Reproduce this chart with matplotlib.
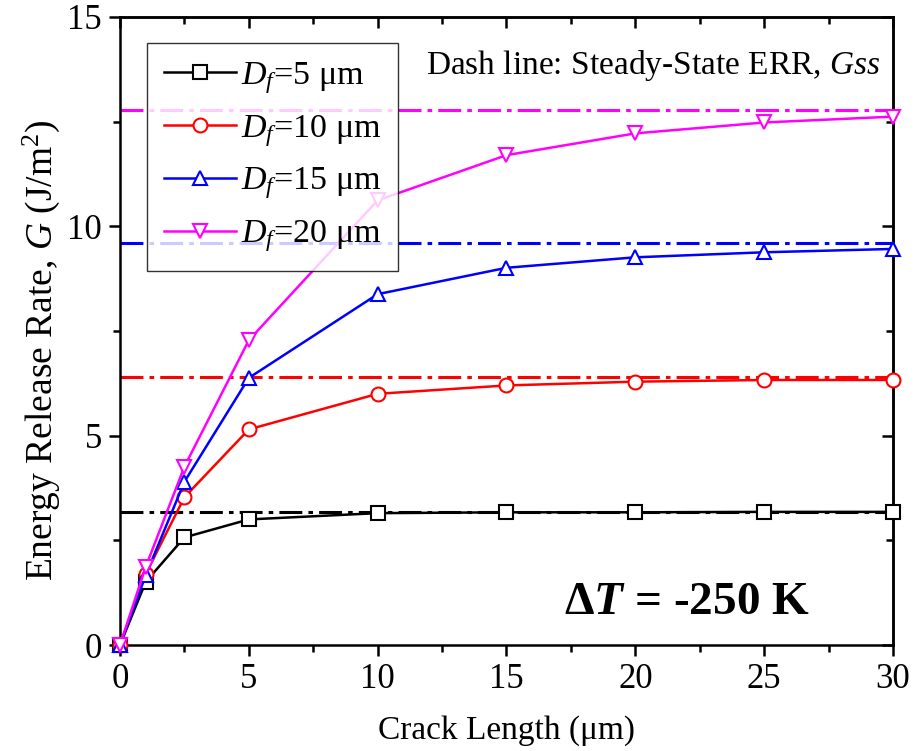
import matplotlib
matplotlib.use("Agg")
import matplotlib.pyplot as plt
from matplotlib.ticker import MultipleLocator

plt.rcParams['font.family'] = ['Liberation Serif', 'DejaVu Serif']
plt.rcParams['mathtext.fontset'] = 'custom'
plt.rcParams['mathtext.rm'] = 'Liberation Serif'
plt.rcParams['mathtext.it'] = 'Liberation Serif:italic'
plt.rcParams['mathtext.bf'] = 'Liberation Serif:bold'
try:
    plt.rcParams['mathtext.bfit'] = 'Liberation Serif:italic:bold'
except KeyError:
    pass

# Data
crack_length = [0, 1, 2.5, 5, 10, 15, 20, 25, 30]
G_df5 = [0.0, 1.51, 2.57, 3.00, 3.15, 3.17, 3.17, 3.18, 3.18]
G_df10 = [0.0, 1.70, 3.53, 5.15, 6.00, 6.20, 6.29, 6.33, 6.33]
G_df15 = [0.0, 1.67, 3.90, 6.38, 8.38, 9.01, 9.26, 9.38, 9.46]
G_df20 = [0.0, 1.87, 4.26, 7.28, 10.62, 11.70, 12.22, 12.48, 12.62]
Gss = [3.18, 6.40, 9.60, 12.78]
labels = [r'$D_f$=5 μm', r'$D_f$=10 μm', r'$D_f$=15 μm', r'$D_f$=20 μm']
colors = ['black', 'red', 'blue', 'magenta']
markers = ['s', 'o', '^', 'v']
series = [G_df5, G_df10, G_df15, G_df20]

fig = plt.figure(figsize=(9.23, 7.51), dpi=100)
ax = fig.add_axes([0.130, 0.1411, 0.8375, 0.8363])

FS = 24
for g, c in zip(Gss, colors):
    ax.hlines(g, 0, 30, colors=c, linestyles=(0, (7.5, 2, 1.5, 2)), linewidth=2.2, zorder=2)

for ys, c, m, lab in zip(series, colors, markers, labels):
    ax.plot(crack_length, ys, color=c, marker=m, markersize=10, markerfacecolor='white',
            markeredgecolor=c, markeredgewidth=1.5, linewidth=1.8, label=lab, zorder=3, clip_on=False)

ax.set_xlim(0, 30)
ax.set_ylim(0, 15)
ax.xaxis.set_major_locator(MultipleLocator(5))
ax.xaxis.set_minor_locator(MultipleLocator(2.5))
ax.yaxis.set_major_locator(MultipleLocator(5))
ax.yaxis.set_minor_locator(MultipleLocator(2.5))
ax.tick_params(which='both', direction='out', labelsize=25, width=1.8)
ax.tick_params(which='major', length=8, pad=5)
ax.tick_params(which='minor', length=5)
for s in ax.spines.values():
    s.set_linewidth(1.8)

# inward ticks on top and right
ax2 = ax.secondary_xaxis('top')
ax2.xaxis.set_major_locator(MultipleLocator(5))
ax2.xaxis.set_minor_locator(MultipleLocator(2.5))
ax2.tick_params(which='both', direction='in', labeltop=False, width=1.8)
ax2.tick_params(which='major', length=8)
ax2.tick_params(which='minor', length=5)
ax3 = ax.secondary_yaxis('right')
ax3.yaxis.set_major_locator(MultipleLocator(5))
ax3.yaxis.set_minor_locator(MultipleLocator(2.5))
ax3.tick_params(which='both', direction='in', labelright=False, width=1.8)
ax3.tick_params(which='major', length=8)
ax3.tick_params(which='minor', length=5)
for a in (ax2, ax3):
    for s in a.spines.values():
        s.set_linewidth(1.8)

ax.set_xlabel('Crack Length (μm)', fontsize=FS, labelpad=14)
ax.set_ylabel(r'Energy Release Rate, $G$ (J/m$^2$)', fontsize=27)
ax.yaxis.set_label_coords(-0.075, 0.47)

leg = ax.legend(loc='upper left', bbox_to_anchor=(0.035, 0.959), borderaxespad=0,
                fontsize=24.5, frameon=True, fancybox=False, edgecolor='black',
                handlelength=2.1, handletextpad=0.15, labelspacing=0.5, borderpad=0.5)
leg.get_frame().set_linewidth(1.0)
leg.set_zorder(5)

ax.text(0.983, 0.923, r'Dash line: Steady-State ERR, $Gss$', transform=ax.transAxes,
        ha='right', va='center', fontsize=FS)
ax.text(0.733, 0.067, r'$\mathbf{\Delta}\mathbfit{T}$ = -250 K', transform=ax.transAxes,
        ha='center', va='center', fontsize=34, fontweight='bold')

fig.savefig('out.png', dpi=100)
